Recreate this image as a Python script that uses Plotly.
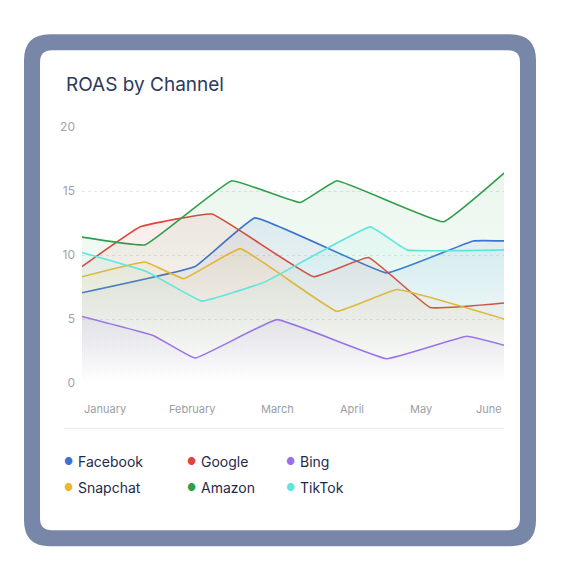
import plotly.graph_objects as go

names = ["Facebook", "Google", "Bing", "Snapchat", "Amazon", "TikTok"]
colors = ["#3a72d8", "#e0453a", "#9a6ef0", "#ecb632", "#2f9e4a", "#5ee6dc"]
fb_x = [0, 0.268, 0.41, 0.722, 0.927, 1]
fb_y = [7.05, 9.1, 12.9, 8.6, 11.1, 11.1]
go_x = [0, 0.138, 0.308, 0.549, 0.679, 0.825, 1]
go_y = [9.1, 12.2, 13.2, 8.3, 9.8, 5.9, 6.25]
bi_x = [0, 0.17, 0.268, 0.462, 0.722, 0.912, 1]
bi_y = [5.2, 3.7, 1.95, 4.95, 1.9, 3.65, 2.95]
sn_x = [0, 0.15, 0.241, 0.375, 0.604, 0.746, 1]
sn_y = [8.3, 9.45, 8.15, 10.5, 5.6, 7.3, 5.0]
am_x = [0, 0.15, 0.355, 0.517, 0.604, 0.856, 1]
am_y = [11.4, 10.8, 15.8, 14.1, 15.8, 12.6, 16.4]
tt_x = [0, 0.154, 0.284, 0.434, 0.683, 0.77, 1]
tt_y = [10.2, 8.7, 6.4, 7.9, 12.2, 10.4, 10.4]
month_labels = ["January", "February", "March", "April", "May", "June"]
month_pos = [0, 0.261, 0.464, 0.640, 0.803, 1]
y_ticks = [0, 5, 10, 15, 20]

series = [(fb_x, fb_y), (go_x, go_y), (bi_x, bi_y), (sn_x, sn_y), (am_x, am_y), (tt_x, tt_y)]

W, H = 570, 580
OFF = 8  # page offset of the plotly div
L, R, T, B = 82, 504, 126.7, 382.7

def px(x): return (x - L) / (R - L)
def py(y): return (B - y) / (B - T)

def rrect(x0, y0, x1, y1, r):
    pts = [
        f"M{px(x0+r)},{py(y0)}", f"L{px(x1-r)},{py(y0)}", f"Q{px(x1)},{py(y0)} {px(x1)},{py(y0+r)}",
        f"L{px(x1)},{py(y1-r)}", f"Q{px(x1)},{py(y1)} {px(x1-r)},{py(y1)}",
        f"L{px(x0+r)},{py(y1)}", f"Q{px(x0)},{py(y1)} {px(x0)},{py(y1-r)}",
        f"L{px(x0)},{py(y0+r)}", f"Q{px(x0)},{py(y0)} {px(x0+r)},{py(y0)}", "Z"]
    return " ".join(pts)

def rgba(h, a):
    h = h.lstrip("#")
    return f"rgba({int(h[0:2],16)},{int(h[2:4],16)},{int(h[4:6],16)},{a})"

fig = go.Figure()
for (xs, ys), n, c in zip(series, names, colors):
    fig.add_trace(go.Scatter(
        x=xs, y=ys, mode="lines", name=n, showlegend=False,
        line=dict(color=c, width=1.6, shape="spline", smoothing=0.25),
        fill="tozeroy",
        fillgradient=dict(type="vertical", colorscale=[[0, rgba(c, 0)], [1, rgba(c, 0.1)]]),
        hoverinfo="skip"))

shapes = [
    dict(type="path", xref="paper", yref="paper", path=rrect(24, 34, 536, 546, 26),
         fillcolor="#7886a8", line=dict(width=0), layer="below"),
    dict(type="path", xref="paper", yref="paper", path=rrect(40, 50, 520, 530, 12),
         fillcolor="white", line=dict(width=0), layer="below"),
    dict(type="line", xref="paper", yref="paper", x0=px(64), x1=px(504), y0=py(428), y1=py(428),
         line=dict(color="#e6e8ec", width=1)),
]

ann = [dict(text="ROAS by Channel", xref="paper", yref="paper", x=px(64), y=py(84),
            xanchor="left", yanchor="middle", showarrow=False,
            font=dict(size=19, color="#2d3a5a", family="Inter"))]
for lab, pos in zip(month_labels, month_pos):
    anchor = "left" if pos == 0 else ("right" if pos == 1 else "center")
    ann.append(dict(text=lab, x=pos, xref="x", yref="paper", y=py(409), xanchor=anchor,
                    yanchor="middle", showarrow=False, font=dict(size=11, color="#9a9ea6", family="Inter")))
leg_pos = [(68, 461), (191, 461), (290, 461), (68, 487), (191, 487), (290, 487)]
for (lx, ly), n, c in zip(leg_pos, names, colors):
    ann.append(dict(text="●", x=px(lx), y=py(ly), xref="paper", yref="paper", xanchor="center",
                    yanchor="middle", showarrow=False, font=dict(size=10, color=c)))
    ann.append(dict(text=n, x=px(lx + 8), y=py(ly), xref="paper", yref="paper", xanchor="left",
                    yanchor="middle", showarrow=False, font=dict(size=14, color="#1f2a4a", family="Inter")))

fig.update_layout(
    width=W, height=H,
    margin=dict(l=L - OFF, r=W - R + OFF, t=T - OFF, b=H - B + OFF),
    paper_bgcolor="white", plot_bgcolor="rgba(0,0,0,0)",
    shapes=shapes, annotations=ann, showlegend=False,
    xaxis=dict(range=[0, 1], showticklabels=False, showgrid=False, zeroline=False, fixedrange=True),
    yaxis=dict(range=[0, 20], tickvals=y_ticks, showgrid=True, gridcolor="#e6e7ea", griddash="dot",
               zeroline=False, tickfont=dict(size=12, color="#a0a3aa", family="Inter"), ticklabelstandoff=6,
               fixedrange=True),
    font=dict(family="Inter"),
)
fig.write_html("out.html")
